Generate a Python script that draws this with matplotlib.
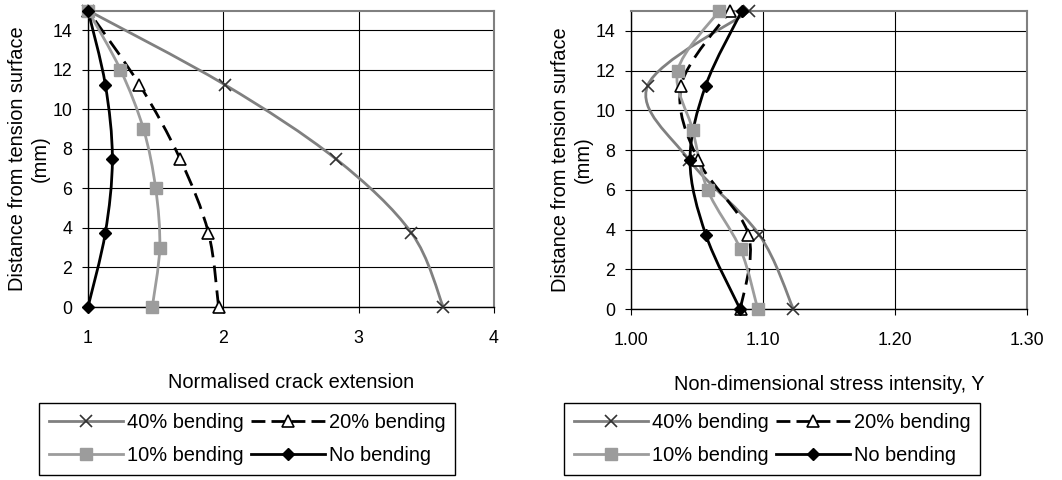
import numpy as np
import matplotlib
matplotlib.use('Agg')
import matplotlib.pyplot as plt
from matplotlib.path import Path
from matplotlib.patches import PathPatch
from matplotlib.lines import Line2D

plt.rcParams['font.family'] = ['Liberation Sans', 'DejaVu Sans']
plt.rcParams['font.size'] = 14.4

# depth positions (mm)
depth_q = [0, 3.75, 7.5, 11.25, 15]
depth_10 = [0, 3, 6, 9, 12, 15]

# left chart: normalised crack extension
crack_40 = [3.625, 3.39, 2.83, 2.01, 1.0]
crack_20 = [1.965, 1.89, 1.68, 1.38, 1.0]
crack_10 = [1.475, 1.53, 1.50, 1.41, 1.24, 1.0]
crack_0 = [1.0, 1.128, 1.18, 1.128, 1.0]

# right chart: non-dimensional stress intensity Y
y_40 = [1.123, 1.097, 1.044, 1.0126, 1.0897]
y_20 = [1.083, 1.089, 1.0508, 1.038, 1.075]
y_10 = [1.096, 1.083, 1.058, 1.0468, 1.0354, 1.0667]
y_0 = [1.0826, 1.0566, 1.0447, 1.0566, 1.0839]

labels = ['40% bending', '20% bending', '10% bending', 'No bending']

GREY40 = '#808080'
GREY10 = '#9c9c9c'

styles = {
    '40% bending': dict(color=GREY40, ls='-', marker='x', ms=9, mfc='none', mec='#333333', mew=1.2),
    '20% bending': dict(color='black', ls=(0, (6, 3)), marker='^', ms=8, mfc='white', mec='black', mew=1.2),
    '10% bending': dict(color=GREY10, ls='-', marker='s', ms=8.5, mfc=GREY10, mec=GREY10, mew=1),
    'No bending': dict(color='black', ls='-', marker='D', ms=6.5, mfc='black', mec='black', mew=1),
}


def smooth_path(xs, ys):
    # excel style smoothed line: cubic bezier with 1/6 tangent
    pts = np.column_stack([xs, ys]).astype(float)
    n = len(pts)
    verts = [pts[0]]
    codes = [Path.MOVETO]
    for i in range(n - 1):
        p_prev = pts[i - 1] if i > 0 else pts[i]
        p_next2 = pts[i + 2] if i + 2 < n else pts[i + 1]
        c1 = pts[i] + (pts[i + 1] - p_prev) / 6
        c2 = pts[i + 1] - (p_next2 - pts[i]) / 6
        verts += [c1, c2, pts[i + 1]]
        codes += [Path.CURVE4] * 3
    return Path(verts, codes)


def draw_series(ax, xs, ys, st):
    patch = PathPatch(smooth_path(xs, ys), fill=False, edgecolor=st['color'],
                      lw=2.0, linestyle=st['ls'], capstyle='butt', zorder=3)
    ax.add_patch(patch)
    ax.plot(xs, ys, ls='none', marker=st['marker'], ms=st['ms'], mfc=st['mfc'],
            mec=st['mec'], mew=st['mew'], zorder=4, clip_on=False)


def style_axes(ax):
    ax.set_ylim(0, 15)
    ax.set_yticks(range(0, 15, 2))
    ax.grid(True, color='black', lw=0.8)
    ax.set_axisbelow(True)
    for s in ['top', 'right']:
        ax.spines[s].set_color(GREY40)
        ax.spines[s].set_linewidth(1.5)
    for s in ['left', 'bottom']:
        ax.spines[s].set_color('black')
        ax.spines[s].set_linewidth(1.0)
    ax.tick_params(direction='out', length=4.5, width=0.8, colors='black', labelsize=12.8)
    ax.tick_params(axis='x', pad=12)
    ax.tick_params(axis='y', pad=7)
    ax.set_ylabel('Distance from tension surface\n(mm)', labelpad=2)


def add_legend(fig, x0):
    handles = []
    for lab in ['40% bending', '10% bending', '20% bending', 'No bending']:
        st = styles[lab]
        ls = (0, (5, 2.2)) if lab == '20% bending' else st['ls']
        handles.append(Line2D([], [], color=st['color'], lw=2.0, ls=ls,
                              marker=st['marker'], ms=st['ms'], mfc=st['mfc'],
                              mec=st['mec'], mew=st['mew'], label=lab))
    leg = fig.legend(handles=handles, ncol=2, loc='upper left',
                     bbox_to_anchor=(x0 / 1062, 1 - 403 / 480),
                     frameon=True, fancybox=False, framealpha=1, edgecolor='black',
                     handlelength=3.7, handletextpad=0.2, columnspacing=0.35,
                     labelspacing=0.68, borderpad=0.5, numpoints=1,
                     borderaxespad=0)
    leg.get_frame().set_linewidth(1.0)


fig = plt.figure(figsize=(10.62, 4.8), dpi=100)

ax1 = fig.add_axes([88 / 1062, 1 - 307 / 480, (494 - 88) / 1062, (307 - 10.5) / 480])
series_left = [crack_40, crack_20, crack_10, crack_0]
depths = [depth_q, depth_q, depth_10, depth_q]
for lab, xs, ds in zip(labels, series_left, depths):
    draw_series(ax1, xs, ds, styles[lab])
ax1.set_xlim(1, 4)
ax1.set_xticks([1, 2, 3, 4])
style_axes(ax1)
ax1.set_xlabel('Normalised crack extension', labelpad=19)

ax2 = fig.add_axes([631 / 1062, 1 - 309 / 480, (1027 - 631) / 1062, (309 - 11) / 480])
series_right = [y_40, y_20, y_10, y_0]
for lab, xs, ds in zip(labels, series_right, depths):
    draw_series(ax2, xs, ds, styles[lab])
ax2.set_xlim(1.0, 1.3)
ax2.set_xticks([1.0, 1.1, 1.2, 1.3])
ax2.set_xticklabels(['1.00', '1.10', '1.20', '1.30'])
style_axes(ax2)
ax2.set_xlabel('Non-dimensional stress intensity, Y', labelpad=19)

add_legend(fig, 39)
add_legend(fig, 564)

fig.savefig('out.png', dpi=100)
